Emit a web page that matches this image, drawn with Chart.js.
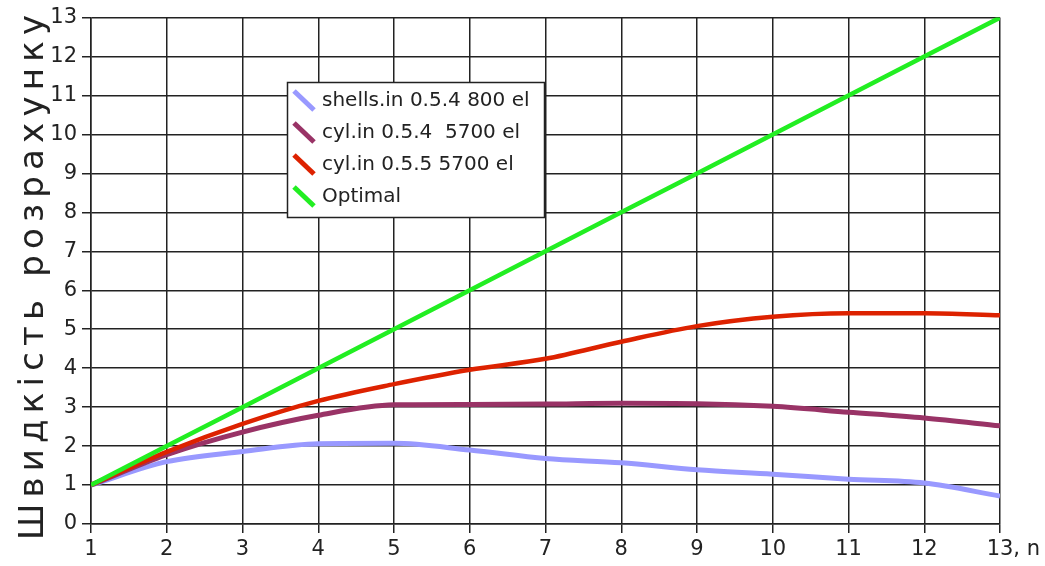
<!DOCTYPE html>
<html>
<head>
<meta charset="utf-8">
<script src="https://cdn.jsdelivr.net/npm/chart.js@4/dist/chart.umd.min.js"></script>
<style>
  html, body { margin: 0; padding: 0; background: #fff; }
  #wrap { width: 1045px; height: 566px; }
</style>
</head>
<body>
<div id="wrap"><canvas id="speedChart" width="1045" height="566"></canvas></div>
<script>
var nValues = [1, 2, 3, 4, 5, 6, 7, 8, 9, 10, 11, 12, 13];
var shells054 = [1, 1.6, 1.86, 2.06, 2.07, 1.9, 1.68, 1.57, 1.39, 1.28, 1.15, 1.05, 0.72];
var cyl054 = [1, 1.78, 2.36, 2.79, 3.06, 3.07, 3.08, 3.1, 3.09, 3.02, 2.87, 2.72, 2.52];
var cyl055 = [1, 1.85, 2.57, 3.16, 3.59, 3.96, 4.24, 4.68, 5.08, 5.32, 5.41, 5.41, 5.36];
var optimal = [1, 2, 3, 4, 5, 6, 7, 8, 9, 10, 11, 12, 13];

var seriesNames = ['shells.in 0.5.4 800 el', 'cyl.in 0.5.4  5700 el', 'cyl.in 0.5.5 5700 el', 'Optimal'];
var seriesColors = ['#9999ff', '#993366', '#dd2200', '#22ee22'];
var yTitle = 'Швидкість розрахунку';

function points(values) {
  return values.map(function (v, i) { return { x: nValues[i], y: v }; });
}

// legend box drawn inside the plot, like the original
var boxLegend = {
  id: 'boxLegend',
  afterDatasetsDraw: function (chart) {
    var ctx = chart.ctx;
    ctx.save();
    ctx.fillStyle = '#ffffff';
    ctx.fillRect(287, 82, 258, 136);
    ctx.strokeStyle = '#222';
    ctx.lineWidth = 1.5;
    ctx.strokeRect(287.5, 82.5, 257, 135);
    ctx.font = '20px "DejaVu Sans"';
    ctx.textBaseline = 'middle';
    for (var i = 0; i < seriesNames.length; i++) {
      var cy = 101 + i * 32;
      ctx.strokeStyle = seriesColors[i];
      ctx.lineWidth = 5;
      ctx.beginPath();
      ctx.moveTo(294, cy - 10);
      ctx.lineTo(314, cy + 9);
      ctx.stroke();
      ctx.fillStyle = '#222';
      ctx.fillText(seriesNames[i], 322, cy);
    }
    ctx.restore();
  },
  afterDraw: function (chart) {
    var ctx = chart.ctx;
    var xs = chart.scales.x;
    ctx.save();
    // ", n" after the last x tick
    ctx.font = '21px "DejaVu Sans"';
    ctx.fillStyle = '#222';
    ctx.textBaseline = 'middle';
    ctx.textAlign = 'left';
    var lastX = xs.getPixelForValue(13) + ctx.measureText('13').width / 2;
    ctx.fillText(', n', lastX, 550);
    // rotated y title stretched along the axis
    ctx.font = '34px "DejaVu Sans"';
    var plain = ctx.measureText(yTitle).width;
    var span = 525;
    ctx.letterSpacing = ((span - plain) / (yTitle.length - 1)) + 'px';
    ctx.translate(34, 540);
    ctx.rotate(-Math.PI / 2);
    ctx.textAlign = 'left';
    ctx.fillText(yTitle, 0, 0);
    ctx.restore();
  }
};

var chart = new Chart(document.getElementById('speedChart').getContext('2d'), {
  type: 'line',
  data: {
    datasets: [
      { label: seriesNames[0], data: points(shells054), borderColor: seriesColors[0], borderWidth: 5, order: 4 },
      { label: seriesNames[1], data: points(cyl054), borderColor: seriesColors[1], borderWidth: 5, order: 3 },
      { label: seriesNames[2], data: points(cyl055), borderColor: seriesColors[2], borderWidth: 4.5, order: 2 },
      { label: seriesNames[3], data: points(optimal), borderColor: seriesColors[3], borderWidth: 4.5, order: 1 }
    ]
  },
  options: {
    responsive: false,
    animation: false,
    layout: { padding: { top: 17, right: 45, left: 0, bottom: 0 } },
    elements: {
      point: { radius: 0 },
      line: { cubicInterpolationMode: 'monotone', fill: false, borderCapStyle: 'butt' }
    },
    plugins: {
      legend: { display: false },
      tooltip: { enabled: false }
    },
    scales: {
      x: {
        type: 'linear',
        min: 1,
        max: 13,
        afterFit: function (s) { s.height = 42; },
        ticks: {
          stepSize: 1,
          color: '#222',
          padding: 4,
          maxRotation: 0,
          font: { family: 'DejaVu Sans', size: 21 }
        },
        grid: { color: '#222', lineWidth: 1.5, tickLength: 9, tickColor: '#222' },
        border: { color: '#222', width: 1.5 }
      },
      y: {
        min: 0,
        max: 13,
        afterFit: function (s) { s.width = 91; },
        ticks: {
          stepSize: 1,
          color: '#222',
          padding: 5,
          font: { family: 'DejaVu Sans', size: 21 }
        },
        grid: { color: '#222', lineWidth: 1.5, tickLength: 9, tickColor: '#222' },
        border: { color: '#222', width: 1.5 }
      }
    }
  },
  plugins: [boxLegend]
});
</script>
</body>
</html>
